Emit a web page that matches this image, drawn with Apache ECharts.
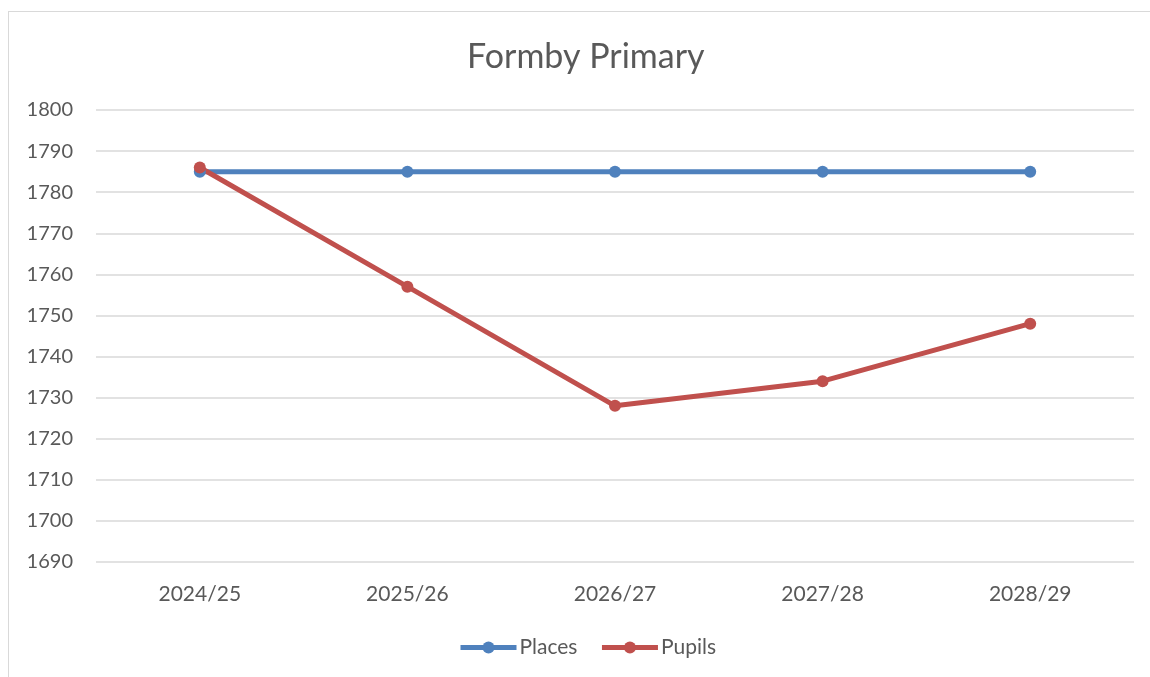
<!DOCTYPE html>
<html>
<head>
<meta charset="utf-8">
<script src="https://cdn.jsdelivr.net/npm/echarts@6/dist/echarts.min.js"></script>
<style>
html,body{margin:0;padding:0;background:#fff;}
#frame{position:absolute;left:8px;top:11px;width:1145px;height:680px;border:1px solid #d9d9d9;box-sizing:border-box;}
#main{position:absolute;left:0;top:0;width:1150px;height:677px;}
</style>
</head>
<body>
<div id="frame"></div>
<div id="main"></div>
<script>
const title = "Formby Primary";
const categories = ["2024/25", "2025/26", "2026/27", "2027/28", "2028/29"];
const places = [1785, 1785, 1785, 1785, 1785];
const pupils = [1786, 1757, 1728, 1734, 1748];
const yMin = 1690, yMax = 1800, yStep = 10;

const font = "Lato, 'Open Sans', sans-serif";
const chart = echarts.init(document.getElementById('main'), null, {renderer: 'canvas'});
chart.setOption({
  backgroundColor: 'transparent',
  animation: false,
  title: {
    text: title, left: 462, top: 35,
    textStyle: {fontFamily: font, fontSize: 34, fontWeight: 'normal', color: '#595959'}
  },
  legend: {
    bottom: 14, left: 453, itemWidth: 56, itemHeight: 15, itemGap: 22,
    lineStyle: {width: 5},
    textStyle: {fontFamily: font, fontSize: 21, color: '#595959', padding: [0,0,0,-2]},
    data: ['Places', 'Pupils']
  },
  grid: {left: 96, right: 16, top: 110, bottom: 115, containLabel: false},
  xAxis: {
    type: 'category', data: categories, boundaryGap: true,
    axisLine: {show: false}, axisTick: {show: false},
    axisLabel: {fontFamily: font, fontSize: 21, color: '#595959', margin: 22}
  },
  yAxis: {
    type: 'value', min: yMin, max: yMax, interval: yStep,
    axisLine: {show: false}, axisTick: {show: false},
    axisLabel: {fontFamily: font, fontSize: 20, color: '#595959', margin: 23,
      formatter: v => String(v)},
    splitLine: {lineStyle: {color: '#d9d9d9', width: 1.5}}
  },
  series: [
    {name: 'Places', type: 'line', data: places, color: '#4F81BD',
     symbol: 'circle', symbolSize: 12, lineStyle: {width: 5, color: '#4F81BD'},
     itemStyle: {color: '#4F81BD'}},
    {name: 'Pupils', type: 'line', data: pupils, color: '#C0504D',
     symbol: 'circle', symbolSize: 12, lineStyle: {width: 5, color: '#C0504D'},
     itemStyle: {color: '#C0504D'}}
  ]
});
</script>
</body>
</html>
